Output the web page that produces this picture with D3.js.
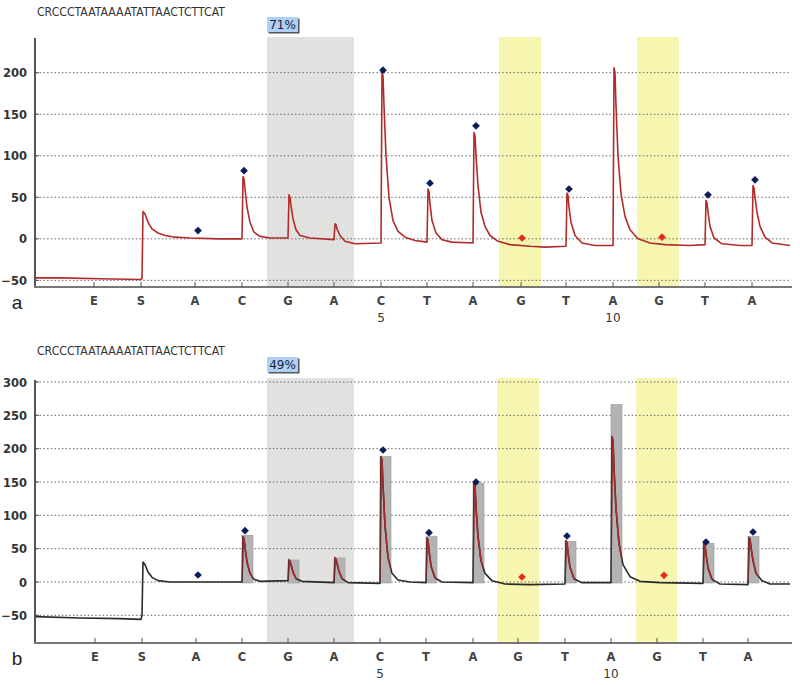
<!DOCTYPE html>
<html>
<head>
<meta charset="utf-8">
<script src="https://cdn.jsdelivr.net/npm/d3@7"></script>
<style>
    body { margin: 0; background: #fff; }
    svg { display: block; font-family: "DejaVu Sans", Verdana, sans-serif; }
</style>
</head>
<body>
<svg id="chart" width="800" height="685"></svg>
<script>
// Sequence and dispensation order
const sequence = 'CRCCCTAATAAAATATTAACTCTTCAT';
const dispLabels = ['E', 'S', 'A', 'C', 'G', 'A', 'C', 'T', 'A', 'G', 'T', 'A', 'G', 'T', 'A'];
const dispNumbers = ['', '', '', '', '', '', '5', '', '', '', '', '10', '', '', ''];

// Dispensation times (run time units)
const dispTimesA = [59, 106, 160, 207, 253, 299, 346, 392, 438, 486, 531, 578, 624, 670, 717];
const dispTimesB = [60, 107, 161, 207, 253, 299, 345, 391, 438, 483, 530, 576, 622, 668, 713];

// Shaded regions [start, end]
const grayBandA = [232, 319];
const yellowBandsA = [[464, 506], [602, 644]];
const grayBandB = [232, 319];
const yellowBandsB = [[462, 504], [601, 642]];

// Y ticks
const yTicksA = [-50, 0, 50, 100, 150, 200];
const yTicksB = [-50, 0, 50, 100, 150, 200, 250, 300];

// Pyrogram trace, panel a [time, signal]
const traceA = [
    [1, -47], [25, -47], [65, -48], [105, -49], [107, -48], [108, 33], [110, 30], [113, 20], [117, 12],
    [123, 7], [130, 4], [140, 2], [155, 1], [185, 0], [207, 0], [208, 75], [209, 72], [210, 60], [212, 38],
    [215, 20], [219, 8], [225, 3], [235, 1], [253, 1], [254, 53], [255, 50], [256, 40], [258, 24], [261, 11],
    [265, 4], [275, 1], [299, -1], [300, 18], [301, 17], [302, 12], [305, 4], [310, -3], [320, -6], [346, -5],
    [347, 200], [348, 196], [349, 160], [351, 100], [354, 50], [358, 22], [363, 9], [370, 2], [380, -2], [392, -4],
    [393, 60], [394, 57], [395, 42], [397, 22], [401, 7], [407, -1], [417, -4], [438, -5], [439, 128], [440, 124],
    [441, 100], [443, 64], [446, 32], [450, 15], [455, 4], [463, -3], [475, -7], [495, -9], [510, -10], [531, -9],
    [532, 55], [533, 52], [534, 38], [536, 20], [540, 4], [547, -5], [560, -8], [578, -8], [579, 206], [580, 200],
    [581, 160], [583, 100], [586, 54], [590, 27], [595, 11], [603, 0], [615, -5], [630, -7], [655, -8], [670, -7],
    [671, 46], [672, 43], [673, 32], [675, 15], [679, 1], [687, -6], [705, -8], [717, -8], [718, 64], [719, 61],
    [720, 50], [722, 32], [725, 15], [730, 2], [737, -5], [755, -8]
];

// Pyrogram trace, panel b [time, signal]
const traceB = [
    [1, -52], [45, -54], [85, -55], [106, -56], [107, -50], [108, 30], [110, 26], [113, 15], [117, 7],
    [123, 2], [135, 0], [207, 0], [208, 68], [209, 65], [210, 52], [212, 30], [215, 13], [219, 4], [225, 1],
    [253, 2], [254, 33], [255, 31], [256, 26], [258, 15], [261, 5], [267, 1], [299, -1], [300, 36], [301, 34],
    [302, 28], [304, 16], [307, 5], [313, -1], [345, -2], [346, 188], [347, 183], [348, 145], [350, 85], [353, 37],
    [357, 13], [363, 3], [375, 0], [391, -1], [392, 66], [393, 63], [394, 47], [396, 24], [400, 6], [407, 0],
    [438, -1], [439, 148], [440, 144], [441, 112], [443, 68], [446, 32], [450, 13], [457, 2], [470, -3], [495, -4],
    [530, -3], [531, 62], [532, 59], [533, 44], [535, 22], [539, 5], [547, -1], [576, -1], [577, 218], [578, 212],
    [579, 170], [581, 110], [584, 58], [588, 26], [595, 8], [605, 1], [625, -1], [668, -2], [669, 58], [670, 55],
    [671, 42], [673, 21], [677, 4], [685, -3], [713, -4], [714, 67], [715, 64], [716, 52], [718, 32], [721, 13],
    [727, 2], [735, -3], [755, -3]
];

// Expected peak histogram, panel b [time, height]
const barsB = [
    [207, 70], [253, 33], [299, 36], [345, 188], [391, 68], [438, 148],
    [530, 61], [576, 266], [668, 58], [713, 68]
];

// Peak markers [time, height, kind]  (kind 'r' = variable position)
const markersA = [
    [163, 10, 'b'], [209, 82, 'b'], [348, 203, 'b'], [395, 67, 'b'], [441, 136, 'b'],
    [487, 1, 'r'], [534, 60, 'b'], [627, 2, 'r'], [673, 53, 'b'], [720, 71, 'b']
];
const markersB = [
    [163, 10.5, 'b'], [210, 77, 'b'], [348, 198, 'b'], [394, 74, 'b'], [441, 150, 'b'],
    [487, 7.5, 'r'], [532, 69, 'b'], [629, 10, 'r'], [671, 60, 'b'], [718, 75, 'b']
];

const svg = d3.select('#chart');
const x = d3.scaleLinear().domain([0, 755]).range([35, 790]);

function drawPanel(cfg) {
    const y = d3.scaleLinear().domain(cfg.yDomain).range([cfg.bottom, cfg.top]);
    const g = svg.append('g');

    // Title sequence
    g.append('text')
        .attr('x', 37).attr('y', cfg.titleY)
        .attr('font-size', 12).attr('fill', '#333')
        .attr('textLength', 188).attr('lengthAdjust', 'spacingAndGlyphs')
        .text(sequence);

    // Percent label
    const bx = x(cfg.grayBand[0]);
    g.append('rect')
        .attr('x', bx + 1.5).attr('y', cfg.boxY + 1.5)
        .attr('width', 31).attr('height', 15).attr('fill', '#555');
    g.append('rect')
        .attr('x', bx).attr('y', cfg.boxY)
        .attr('width', 31).attr('height', 15).attr('fill', '#aed0f6');
    g.append('text')
        .attr('x', bx + 15.5).attr('y', cfg.boxY + 11.5)
        .attr('text-anchor', 'middle').attr('font-size', 12).attr('fill', '#223')
        .text(cfg.percent);

    // Shaded bands
    g.append('rect')
        .attr('x', x(cfg.grayBand[0])).attr('y', cfg.top)
        .attr('width', x(cfg.grayBand[1]) - x(cfg.grayBand[0]))
        .attr('height', cfg.bottom - cfg.top)
        .attr('fill', '#e1e1df');
    g.selectAll('.yb').data(cfg.yellowBands).join('rect')
        .attr('x', d => x(d[0])).attr('y', cfg.top)
        .attr('width', d => x(d[1]) - x(d[0]))
        .attr('height', cfg.bottom - cfg.top)
        .attr('fill', '#f7f6b0');

    // Gridlines
    g.selectAll('.grid').data(cfg.yTicks).join('line')
        .attr('x1', 36).attr('x2', 790)
        .attr('y1', d => y(d)).attr('y2', d => y(d))
        .attr('stroke', '#666').attr('stroke-width', 1)
        .attr('stroke-dasharray', '1.5,2.2');

    // Y tick labels + small ticks
    g.selectAll('.ylab').data(cfg.yTicks).join('text')
        .attr('x', 27).attr('y', d => y(d) + 4.5)
        .attr('text-anchor', 'end').attr('font-size', 11.5).attr('font-weight', 'bold')
        .attr('fill', '#333')
        .text(d => d < 0 ? '\u2212' + Math.abs(d) : d);
    g.selectAll('.ytick').data(cfg.yTicks).join('line')
        .attr('x1', 35).attr('x2', 39)
        .attr('y1', d => y(d)).attr('y2', d => y(d))
        .attr('stroke', '#555');

    // Histogram bars
    if (cfg.bars) {
        g.selectAll('.bar').data(cfg.bars).join('rect')
            .attr('x', d => x(d[0])).attr('y', d => y(d[1]))
            .attr('width', x(11) - x(0))
            .attr('height', d => y(0) - y(d[1]) + 1)
            .attr('fill', '#b3b3b3').attr('stroke', '#999').attr('stroke-width', 0.6);
    }

    // Trace
    const line = d3.line().x(d => x(d[0])).y(d => y(d[1]));
    g.append('path')
        .datum(cfg.trace)
        .attr('d', line)
        .attr('fill', 'none')
        .attr('stroke', cfg.traceColor)
        .attr('stroke-width', 1.6)
        .attr('stroke-linejoin', 'round');

    // Red peaks inside histogram bars
    if (cfg.bars) {
        const clipId = 'clip-' + cfg.name;
        g.append('clipPath').attr('id', clipId)
            .selectAll('rect').data(cfg.bars).join('rect')
            .attr('x', d => x(d[0]) + 0.5).attr('y', cfg.top)
            .attr('width', x(11) - x(0) - 1)
            .attr('height', y(0) - cfg.top - 3);
        g.append('path')
            .datum(cfg.trace)
            .attr('d', line)
            .attr('fill', 'none')
            .attr('stroke', '#a52a2a')
            .attr('stroke-width', 1.6)
            .attr('clip-path', 'url(#' + clipId + ')');
    }

    // Peak markers
    g.selectAll('.mark').data(cfg.markers).join('path')
        .attr('d', d3.symbol().type(d3.symbolDiamond2).size(38))
        .attr('transform', d => 'translate(' + x(d[0]) + ',' + y(d[1]) + ')')
        .attr('fill', d => d[2] === 'r' ? '#e8281a' : '#0b1d5a');

    // Axes lines
    g.append('line')
        .attr('x1', 35).attr('x2', 35)
        .attr('y1', cfg.axisTop).attr('y2', cfg.bottom)
        .attr('stroke', '#555').attr('stroke-width', 2);
    g.append('line')
        .attr('x1', 34).attr('x2', 792)
        .attr('y1', cfg.bottom).attr('y2', cfg.bottom)
        .attr('stroke', '#777').attr('stroke-width', 2);

    // Dispensation ticks and labels
    g.selectAll('.xtick').data(cfg.dispTimes).join('line')
        .attr('x1', d => x(d)).attr('x2', d => x(d))
        .attr('y1', cfg.bottom - 5).attr('y2', cfg.bottom)
        .attr('stroke', '#555');
    g.selectAll('.xlab').data(cfg.dispTimes).join('text')
        .attr('x', d => x(d)).attr('y', cfg.bottom + 18)
        .attr('text-anchor', 'middle').attr('font-size', 11.5).attr('font-weight', 'bold')
        .attr('fill', '#444')
        .text((d, i) => dispLabels[i]);
    g.selectAll('.xnum').data(cfg.dispTimes).join('text')
        .attr('x', d => x(d)).attr('y', cfg.bottom + 35)
        .attr('text-anchor', 'middle').attr('font-size', 12)
        .attr('fill', '#333')
        .text((d, i) => dispNumbers[i]);

    // Panel letter
    g.append('text')
        .attr('x', 17).attr('y', cfg.bottom + 22)
        .attr('text-anchor', 'middle').attr('font-size', 19)
        .attr('font-family', '"Liberation Sans", Arial, sans-serif')
        .attr('fill', '#222')
        .text(cfg.name);
}

drawPanel({
    name: 'a', percent: '71%',
    top: 37, bottom: 287, axisTop: 38, yDomain: [-58, 243],
    titleY: 16, boxY: 17,
    grayBand: grayBandA, yellowBands: yellowBandsA, yTicks: yTicksA,
    dispTimes: dispTimesA, trace: traceA, traceColor: '#b22b2b',
    markers: markersA
});

drawPanel({
    name: 'b', percent: '49%',
    top: 378, bottom: 643, axisTop: 380, yDomain: [-91.5, 306],
    titleY: 355, boxY: 357,
    grayBand: grayBandB, yellowBands: yellowBandsB, yTicks: yTicksB,
    dispTimes: dispTimesB, trace: traceB, traceColor: '#2a2a2a',
    bars: barsB, markers: markersB
});
</script>
</body>
</html>
